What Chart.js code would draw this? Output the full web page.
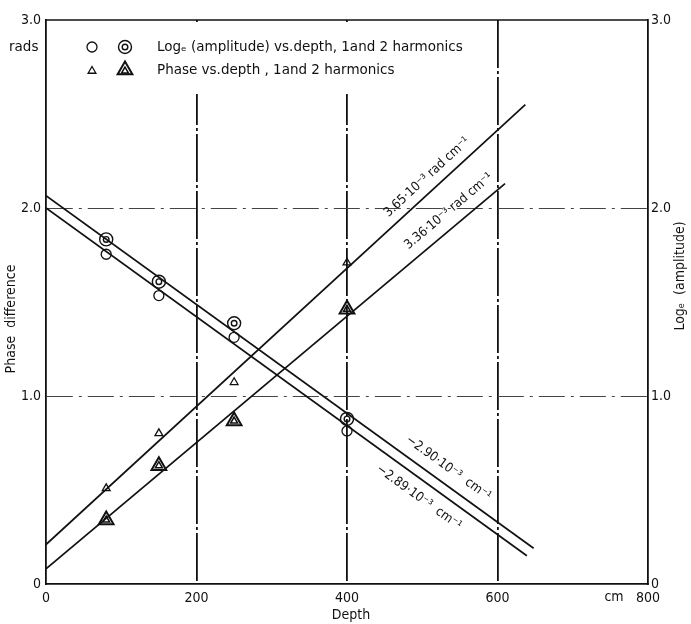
<!DOCTYPE html>
<html><head><meta charset="utf-8">
<script src="https://cdn.jsdelivr.net/npm/chart.js@4"></script>
<style>html,body{margin:0;padding:0;background:#fff}#wrap{width:691px;height:624px}</style>
</head><body><div id="wrap"><canvas id="c" width="691" height="624"></canvas></div>
<script>
// ---- data ----
const depthTicks = [0, 200, 400, 600, 800];
const xTickLabels = ['0', '200', '400', '600', '800'];
const xUnit = 'cm';
const yTickValues = [0, 1, 2, 3];
const yTickLabels = ['0', '1.0', '2.0', '3.0'];

const depthPts = [80, 150, 250, 400];
const logAmp1 = [1.754, 1.534, 1.312, 0.814];   // 1st harmonic, log_e amplitude
const logAmp2 = [1.833, 1.608, 1.387, 0.878];   // 2nd harmonic, log_e amplitude
const phase1  = [0.509, 0.801, 1.073, 1.709];   // 1st harmonic, phase (rads)
const phase2  = [0.340, 0.629, 0.867, 1.461];   // 2nd harmonic, phase (rads)

// fitted straight lines (end points)
const fitPhase1Depth = [0, 637];   const fitPhase1Val = [0.21, 2.55];
const fitPhase2Depth = [0, 610];   const fitPhase2Val = [0.08, 2.13];
const fitLog2Depth   = [0, 648];   const fitLog2Val   = [2.065, 0.19];
const fitLog1Depth   = [0, 639];   const fitLog1Val   = [2.00, 0.15];

const slopeLabels = ['3.65·10⁻³ rad cm⁻¹', '3.36·10⁻³ rad cm⁻¹', '−2.90·10⁻³  cm⁻¹', '−2.89·10⁻³  cm⁻¹'];
const legendLabels = ['Logₑ (amplitude) vs.depth, 1and 2 harmonics', 'Phase vs.depth , 1and 2 harmonics'];

// ---- helpers ----
const pts = (xs, ys) => xs.map((x, i) => ({x: x, y: ys[i]}));
const FONT = '"DejaVu Sans Condensed", "DejaVu Sans", sans-serif';
const FONT2 = '"DejaVu Sans", sans-serif';
const INK = '#111';
const NONE = 'rgba(0,0,0,0)';

function marker(data, style, r, w) {
  return {type: 'scatter', data: data, pointStyle: style, pointRadius: r, pointHoverRadius: r,
    pointBorderWidth: w, pointBorderColor: INK, pointBackgroundColor: NONE, showLine: false, yAxisID: 'y'};
}
function fitLine(data) {
  return {type: 'scatter', data: data, showLine: true, borderColor: INK, borderWidth: 1.7,
    pointRadius: 0, tension: 0, fill: false, yAxisID: 'y'};
}

const fits = [
  pts(fitPhase1Depth, fitPhase1Val),
  pts(fitPhase2Depth, fitPhase2Val),
  pts(fitLog2Depth, fitLog2Val),
  pts(fitLog1Depth, fitLog1Val)
];

// label placement: [fit index, depth where label centre projects on line, perpendicular offset px]
const labelPlace = [[0, 518, -13], [1, 548, -15], [2, 523, -15], [3, 508, 16]];

const deco = {
  id: 'deco',
  beforeDatasetsDraw(chart) {
    const ctx = chart.ctx, a = chart.chartArea;
    ctx.save();
    ctx.fillStyle = '#fff';
    ctx.fillRect(60, a.top + 2, 292, 72);
    ctx.strokeStyle = INK; ctx.lineWidth = 1.6;
    ctx.beginPath(); ctx.moveTo(a.left, a.top); ctx.lineTo(a.right, a.top); ctx.stroke();
    ctx.restore();
  },
  afterDatasetsDraw(chart) {
    const ctx = chart.ctx, a = chart.chartArea;
    const xs = chart.scales.x, ys = chart.scales.y;
    ctx.save();
    ctx.fillStyle = INK; ctx.strokeStyle = INK;
    // legend
    ctx.font = '13.5px ' + FONT2;
    ctx.textBaseline = 'middle'; ctx.textAlign = 'left';
    ctx.fillText('rads', 9, 47);
    ctx.fillText(legendLabels[0], 157, 47);
    ctx.fillText(legendLabels[1], 157, 70);
    const P = Chart.helpers.drawPoint;
    ctx.fillStyle = NONE;
    ctx.lineWidth = 1.3;
    P(ctx, {pointStyle: 'circle', radius: 5, borderWidth: 1.3}, 92, 47);
    ctx.lineWidth = 1.4;
    P(ctx, {pointStyle: 'circle', radius: 6.5, borderWidth: 1.4}, 125, 47);
    P(ctx, {pointStyle: 'circle', radius: 2.8, borderWidth: 1.4}, 125, 47);
    ctx.lineWidth = 1.3;
    P(ctx, {pointStyle: 'triangle', radius: 4.5, borderWidth: 1.3}, 92, 71);
    ctx.lineWidth = 2;
    P(ctx, {pointStyle: 'triangle', radius: 8.5, borderWidth: 2}, 125, 70);
    ctx.lineWidth = 1.5;
    P(ctx, {pointStyle: 'triangle', radius: 4, borderWidth: 1.5}, 125, 71);
    ctx.fillStyle = INK;

    // slope labels along the fitted lines
    ctx.font = '13px ' + FONT;
    ctx.textAlign = 'center'; ctx.textBaseline = 'middle';
    labelPlace.forEach((lp, i) => {
      const f = fits[lp[0]];
      const x1 = xs.getPixelForValue(f[0].x), y1 = ys.getPixelForValue(f[0].y);
      const x2 = xs.getPixelForValue(f[1].x), y2 = ys.getPixelForValue(f[1].y);
      const ang = Math.atan2(y2 - y1, x2 - x1);
      const t = (lp[1] - f[0].x) / (f[1].x - f[0].x);
      const vy = f[0].y + t * (f[1].y - f[0].y);
      const px = xs.getPixelForValue(lp[1]), py = ys.getPixelForValue(vy);
      ctx.save();
      ctx.translate(px, py); ctx.rotate(ang);
      ctx.fillText(slopeLabels[i], 0, lp[2]);
      ctx.restore();
    });

    // axis titles
    ctx.font = '14px ' + FONT;
    ctx.save(); ctx.translate(11, 319); ctx.rotate(-Math.PI / 2);
    ctx.textAlign = 'center'; ctx.fillText('Phase  difference', 0, 0); ctx.restore();
    ctx.save(); ctx.translate(680, 276); ctx.rotate(-Math.PI / 2);
    ctx.textAlign = 'center'; ctx.fillText('Logₑ  (amplitude)', 0, 0); ctx.restore();
    ctx.textAlign = 'center';
    ctx.fillText('Depth', xs.getPixelForValue(400) + 4, 615);
    ctx.fillText(xUnit, xs.getPixelForValue(800) - 34, 597);
    ctx.restore();
  }
};

const isInner = (v, lo, hi) => v > lo && v < hi;

new Chart(document.getElementById('c'), {
  data: {
    datasets: [
      fitLine(fits[0]), fitLine(fits[1]), fitLine(fits[2]), fitLine(fits[3]),
      marker(pts(depthPts, logAmp1), 'circle', 5, 1.3),
      marker(pts(depthPts, logAmp2), 'circle', 6.5, 1.4),
      marker(pts(depthPts, logAmp2), 'circle', 2.8, 1.4),
      marker(pts(depthPts, phase1), 'triangle', 4.5, 1.3),
      marker(pts(depthPts, phase2), 'triangle', 8.5, 2),
      marker(pts(depthPts, phase2), 'triangle', 4, 1.5)
    ]
  },
  options: {
    responsive: false, animation: false, devicePixelRatio: 1,
    layout: {padding: {top: 20, left: 0, right: 0, bottom: 0}},
    plugins: {legend: {display: false}, tooltip: {enabled: false}, title: {display: false}},
    scales: {
      x: {
        type: 'linear', min: 0, max: 800,
        afterFit: s => { s.height = 40; },
        afterBuildTicks: s => { s.ticks = depthTicks.map(v => ({value: v})); },
        ticks: {autoSkip: false, maxRotation: 0, padding: 6, color: INK,
          font: {family: FONT, size: 14},
          callback: v => xTickLabels[depthTicks.indexOf(v)]},
        grid: {drawTicks: false,
          color: c => (c.tick && isInner(c.tick.value, 0, 800)) ? INK : NONE,
          lineWidth: 1.8},
        border: {display: true, color: INK, width: 1.8, dash: [48, 3, 3, 3]}
      },
      y: {
        type: 'linear', position: 'left', min: 0, max: 3,
        afterFit: s => { s.width = 46; },
        afterBuildTicks: s => { s.ticks = yTickValues.map(v => ({value: v})); },
        ticks: {padding: 5, color: INK, font: {family: FONT, size: 14},
          callback: v => yTickLabels[yTickValues.indexOf(v)]},
        grid: {drawTicks: false,
          color: c => (c.tick && isInner(c.tick.value, 0, 3)) ? '#444' : NONE,
          lineWidth: 1},
        border: {display: true, color: INK, width: 1.8, dash: [26, 6, 3, 6]}
      },
      y2: {
        type: 'linear', position: 'right', min: 0, max: 3,
        afterFit: s => { s.width = 43; },
        afterBuildTicks: s => { s.ticks = yTickValues.map(v => ({value: v})); },
        ticks: {padding: 3, color: INK, font: {family: FONT, size: 14},
          callback: v => yTickLabels[yTickValues.indexOf(v)]},
        grid: {display: false, drawTicks: false},
        border: {display: true, color: INK, width: 1.8}
      }
    }
  },
  plugins: [deco]
});
</script>
</body></html>
